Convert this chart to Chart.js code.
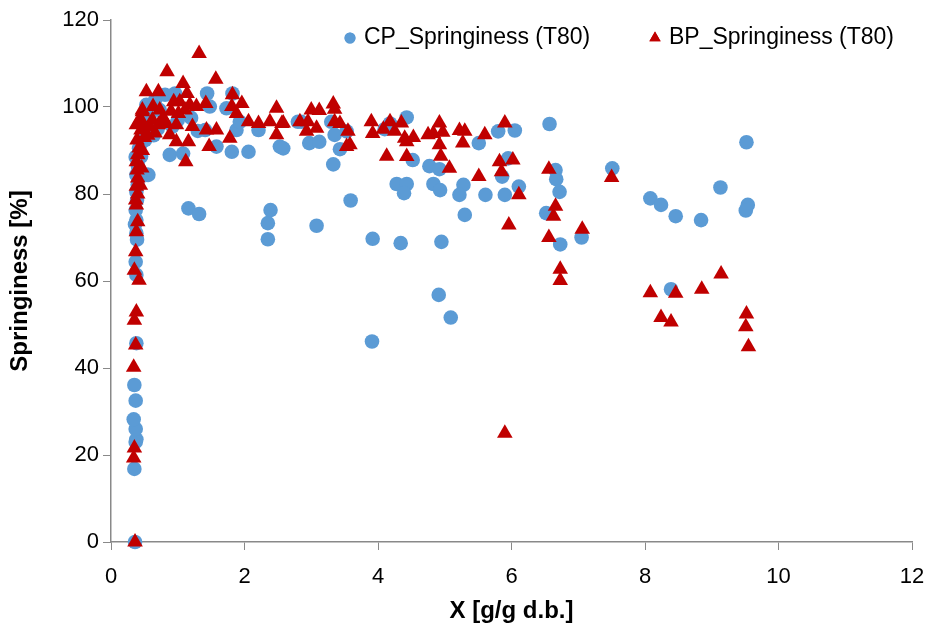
<!DOCTYPE html>
<html>
<head>
<meta charset="utf-8">
<script src="https://cdn.jsdelivr.net/npm/chart.js@4/dist/chart.umd.min.js"></script>
<style>
  html, body { margin: 0; padding: 0; background: #fff; }
  #wrap { width: 930px; height: 632px; }
</style>
</head>
<body>
<div id="wrap"><canvas id="chart" width="930" height="632"></canvas></div>
<script>
// series labels
var seriesNames = ['CP_Springiness (T80)', 'BP_Springiness (T80)'];

// CP points (moisture X, springiness %)
var cpX = [0.36, 0.35, 0.37, 0.38, 0.37, 0.34, 0.37, 0.35, 0.38, 0.38, 0.37, 0.38, 0.38, 0.37, 0.39, 0.38, 0.40, 0.38, 0.40, 0.37, 0.42, 0.45,
  0.54, 0.56, 0.51, 0.53, 0.58, 0.55, 0.48, 0.62, 0.66, 0.73, 0.81, 0.88, 0.96, 1.08, 1.00, 0.92, 0.70, 0.64,
  1.16, 1.32, 1.20, 1.30, 1.41, 1.44, 1.48, 1.58, 1.73, 1.82, 1.81, 1.88, 1.93, 2.06, 2.21, 2.35, 2.35, 2.39,
  2.53, 2.58, 2.80, 2.85, 2.97, 3.12, 3.30, 3.35, 3.33, 3.43, 3.53, 3.59, 3.08, 3.92, 3.91,
  4.10, 4.18, 4.43, 4.28, 4.43, 4.39, 4.34, 4.52, 4.77, 4.83, 4.92, 4.93, 4.95, 4.91, 5.09,
  5.28, 5.22, 5.30, 5.51, 5.61, 5.80, 6.05, 5.95, 5.86, 5.90, 6.11, 6.57, 6.66, 6.67, 6.72, 6.52, 6.73,
  7.05, 7.51, 8.08, 8.24, 8.46, 8.84, 8.39, 9.13, 9.52, 9.54, 9.51,
  0.36, 0.39, 0.41, 0.44, 0.43];
var cpY = [0, 16.8, 23.0, 23.6, 26.0, 28.2, 32.5, 36.1, 45.7, 61.4, 64.4, 71.0, 74.0, 76.3, 78.6, 80.5, 82.1, 84.4, 86.7, 88.5, 90.5, 88.6,
  84.4, 84.4, 92.4, 100.5, 98.2, 96.0, 94.0, 100.2, 101.6, 99.3, 102.8, 89.0, 103.1, 89.3, 97.0, 95.5, 95.0, 93.5,
  76.7, 75.4, 97.5, 94.5, 94.7, 103.1, 100.1, 90.9, 99.7, 103.1, 89.7, 94.7, 96.6, 89.7, 94.7, 73.3, 69.6, 76.3,
  90.9, 90.5, 96.6, 96.6, 91.7, 92.0, 96.6, 93.6, 86.8, 90.3, 94.4, 78.5, 72.7, 69.7, 46.1,
  94.9, 96.2, 97.6, 82.3, 82.3, 80.2, 68.7, 87.8, 86.4, 82.3, 85.7, 80.9, 69.0, 56.8, 51.6,
  82.1, 79.8, 75.2, 91.7, 79.8, 94.4, 94.6, 88.2, 84.0, 79.8, 81.7, 96.1, 85.5, 83.4, 80.5, 75.6, 68.4,
  70.0, 85.9, 79.0, 77.5, 74.9, 74.0, 58.1, 81.5, 91.9, 77.5, 76.2,
  73.0, 69.5, 86.0, 91.5, 84.0];

// BP points (moisture X, springiness %)
var bpX = [0.36, 0.34, 0.35, 0.34, 0.37, 0.35, 0.38, 0.42, 0.35, 0.37, 0.38, 0.40, 0.38, 0.37, 0.40, 0.38, 0.40, 0.39, 0.38, 0.40, 0.42, 0.39, 0.45, 0.43, 0.47, 0.50, 0.47, 0.46, 0.44,
  1.32, 0.84, 1.57, 1.08, 0.53, 0.71, 1.14, 1.82, 1.96, 1.42, 0.94, 1.03, 1.18, 1.28, 1.81, 0.47, 0.63, 0.73, 1.88, 2.48, 1.01, 1.11,
  2.06, 2.21, 2.38, 2.56, 2.48, 0.38, 0.48, 0.58, 0.71, 0.83, 0.98, 1.22, 1.43, 1.58, 0.88, 0.98, 1.16, 1.78, 1.47, 1.12,
  0.62, 0.78, 0.90, 0.66, 0.55,
  2.58, 3.00, 3.12, 3.33, 3.35, 2.83, 2.95, 3.08, 2.93, 3.35, 3.43, 3.55, 3.58, 3.53, 3.90, 3.92, 4.18, 4.08, 4.35, 4.25,
  4.40, 4.43, 4.53, 4.13, 4.43, 4.75, 4.92, 4.97, 4.92, 4.94, 4.83, 5.22, 5.30, 5.27, 5.60, 5.90, 5.07, 5.51, 5.82, 6.02,
  5.85, 6.11, 5.96, 6.56, 6.66, 6.63, 6.56, 6.73, 6.73, 7.06, 7.50, 8.08, 8.46, 8.85, 9.14, 8.24, 8.39, 9.52, 9.51, 9.55, 5.90];
var bpY = [0, 19.3, 21.6, 40.2, 45.3, 51.0, 52.9, 60.2, 62.5, 66.7, 71.3, 73.6, 77.5, 78.6, 80.0, 81.8, 83.7, 85.5, 87.4, 89.0, 90.6, 92.4, 94.7, 97.0, 98.9, 93.0, 90.0, 86.0, 82.0,
  112.3, 108.1, 106.4, 105.4, 103.5, 103.5, 103.1, 102.8, 100.8, 100.8, 101.2, 101.2, 100.5, 100.1, 100.1, 99.3, 100.1, 99.3, 98.5, 99.7, 98.5, 99.3,
  96.6, 96.2, 96.6, 96.2, 93.6, 95.9, 96.2, 95.5, 95.9, 96.2, 95.9, 95.5, 94.7, 94.7, 93.6, 92.0, 92.0, 92.8, 90.9, 87.4,
  97.0, 97.5, 99.0, 94.0, 93.5,
  96.3, 99.3, 99.2, 100.7, 99.5, 96.6, 96.6, 95.1, 94.4, 96.6, 96.2, 94.4, 91.3, 90.9, 96.6, 93.9, 96.6, 94.9, 96.3, 94.4,
  92.8, 92.0, 93.0, 88.7, 88.6, 93.6, 96.3, 94.2, 91.3, 88.7, 93.9, 94.6, 94.4, 91.7, 93.6, 96.3, 85.9, 84.0, 87.4, 87.8,
  85.1, 79.8, 72.9, 85.7, 77.2, 74.9, 70.0, 62.7, 60.1, 71.9, 83.8, 57.3, 57.2, 58.1, 61.6, 51.6, 50.6, 52.4, 49.5, 44.9, 25.0];

function toPoints(xs, ys) {
    return xs.map(function(x, i) { return {x: x, y: ys[i]}; });
}

var font = 'Liberation Sans, Arial, sans-serif';
var axisColor = '#898989';

// legend drawn inside the plot, top right, like the spreadsheet original
var insideLegend = {
    id: 'insideLegend',
    afterDraw: function(chart) {
        var ctx = chart.ctx,
            y = chart.chartArea.top + 18,
            items = [{x: 350, style: 'circle', r: 5.5}, {x: 655, style: 'triangle', r: 6.5}];
        ctx.save();
        ctx.font = '23px ' + font;
        ctx.textBaseline = 'middle';
        items.forEach(function(item, i) {
            var ds = chart.data.datasets[i];
            ctx.fillStyle = ds.backgroundColor;
            Chart.helpers.drawPoint(ctx, {pointStyle: item.style, radius: item.r, borderWidth: 0}, item.x, y);
            ctx.fill();
            ctx.fillStyle = '#000';
            ctx.fillText(ds.label, item.x + 14, y);
        });
        ctx.restore();
    }
};

new Chart(document.getElementById('chart'), {
    type: 'scatter',
    data: {
        datasets: [{
            label: seriesNames[0],
            data: toPoints(cpX, cpY),
            pointStyle: 'circle',
            pointRadius: 7.3,
            pointHoverRadius: 7.3,
            backgroundColor: '#5B9BD5',
            borderColor: '#5B9BD5',
            borderWidth: 0,
            order: 2,
            clip: false
        }, {
            label: seriesNames[1],
            data: toPoints(bpX, bpY),
            pointStyle: 'triangle',
            pointRadius: 9,
            pointHoverRadius: 9,
            backgroundColor: '#C00000',
            borderColor: '#C00000',
            borderWidth: 0,
            order: 1,
            clip: false
        }]
    },
    options: {
        responsive: false,
        animation: false,
        layout: {padding: {top: 20, right: 18, left: 0, bottom: 0}},
        plugins: {
            tooltip: {enabled: false},
            legend: {display: false}
        },
        scales: {
            x: {
                type: 'linear',
                min: 0,
                max: 12,
                ticks: {stepSize: 2, color: '#000', padding: 14, font: {family: font, size: 22}},
                grid: {drawOnChartArea: false, drawTicks: true, tickLength: 8, color: axisColor},
                border: {color: axisColor, width: 1.5},
                title: {display: true, text: 'X [g/g d.b.]', color: '#000', padding: {top: 0, bottom: 6},
                    font: {family: font, size: 24, weight: 'bold'}},
                afterFit: function(scale) {
                    scale.height = 90;
                    scale.paddingLeft = 0;
                    scale.paddingRight = 0;
                }
            },
            y: {
                min: 0,
                max: 120,
                ticks: {stepSize: 20, color: '#000', padding: 4, font: {family: font, size: 22}},
                grid: {drawOnChartArea: false, drawTicks: true, tickLength: 8, color: axisColor},
                border: {color: axisColor, width: 1.5},
                title: {display: true, text: 'Springiness [%]', color: '#000', padding: {top: 6, bottom: 0},
                    font: {family: font, size: 24, weight: 'bold'}},
                afterFit: function(scale) {
                    scale.width = 111;
                    scale.paddingTop = 0;
                    scale.paddingBottom = 0;
                }
            }
        }
    },
    plugins: [insideLegend]
});
</script>
</body>
</html>
